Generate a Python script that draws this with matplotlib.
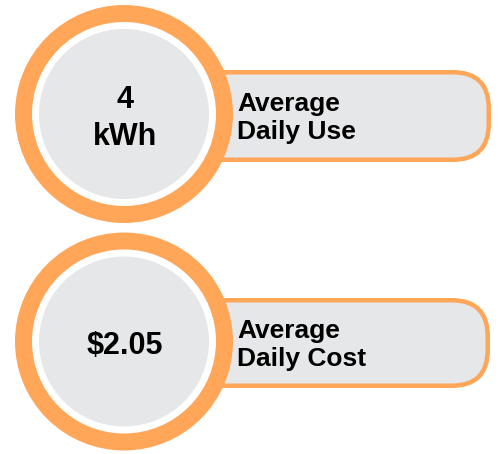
import matplotlib
matplotlib.use("Agg")
import matplotlib.pyplot as plt
from matplotlib.patches import Circle, FancyBboxPatch

# ---- data ----
values = ["4\nkWh", "$2.05"]
labels = ["Average\nDaily Use", "Average\nDaily Cost"]

# ---- style ----
ORANGE = "#FFA659"
GREY = "#E6E7E9"
W, H, DPI = 498, 454, 100

plt.rcParams['font.family'] = ['Liberation Sans', 'DejaVu Sans']

fig = plt.figure(figsize=(W / DPI, H / DPI), dpi=DPI)
ax = fig.add_axes([0, 0, 1, 1])
ax.set_xlim(0, W)
ax.set_ylim(H, 0)
ax.set_aspect('equal')
ax.axis('off')

centers = [(124, 114), (124, 341.5)]
pill_y = [(70, 162), (298, 388)]
pill_right = [491, 490]

px2pt = 72 / DPI
lw_px = 4.5

for i, (val, lab) in enumerate(zip(values, labels)):
    cx, cy = centers[i]
    y0, y1 = pill_y[i]
    x0 = 150
    x1 = pill_right[i]
    half = lw_px / 2
    pill = FancyBboxPatch((x0 + half, y0 + half), (x1 - x0) - lw_px, (y1 - y0) - lw_px,
                          boxstyle="round,pad=0,rounding_size=36",
                          facecolor=GREY, edgecolor=ORANGE, linewidth=lw_px * px2pt,
                          zorder=1)
    ax.add_patch(pill)
    ax.add_patch(Circle((cx, cy), 109, facecolor=ORANGE, edgecolor='none', zorder=2))
    ax.add_patch(Circle((cx, cy), 92, facecolor='white', edgecolor='none', zorder=3))
    ax.add_patch(Circle((cx, cy), 85, facecolor=GREY, edgecolor='none', zorder=4))

    # big value text
    lines = val.split("\n")
    n = len(lines)
    s = 36.5
    cap = 22
    for j, ln in enumerate(lines):
        by = cy + cap / 2 + 1.5 + (j - (n - 1) / 2) * s
        ax.text(cx + 1, by, ln, ha='center', va='baseline', fontsize=22,
                fontweight='bold', color='black', zorder=5)

    # label text
    pcy = (y0 + y1) / 2
    lines = lab.split("\n")
    n = len(lines)
    s = 28.5
    cap = 19
    for j, ln in enumerate(lines):
        by = pcy + cap / 2 - 0.5 + (j - (n - 1) / 2) * s
        ax.text(237, by, ln, ha='left', va='baseline', fontsize=19,
                fontweight='bold', color='black', zorder=5)

fig.savefig("out.png", dpi=DPI, facecolor='white')
